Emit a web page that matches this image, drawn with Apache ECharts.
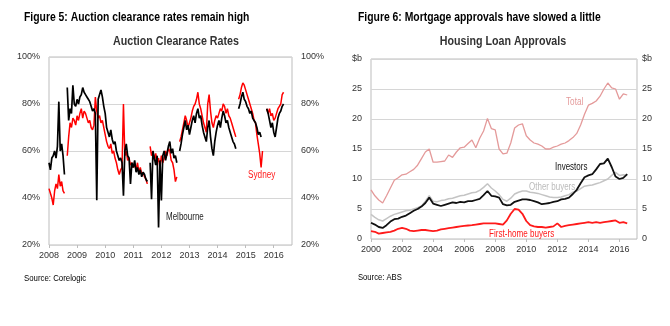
<!DOCTYPE html>
<html><head><meta charset="utf-8">
<script src="https://cdn.jsdelivr.net/npm/echarts@6/dist/echarts.min.js"></script>
<style>html,body{margin:0;padding:0;background:#fff}#c{width:670px;height:326px}</style>
</head><body><div id="c"></div>
<script>
// ---------- Figure 5: Auction clearance rates (weekly-ish, decimal years) ----------
const auctionDates = [
2008.00,2008.05,2008.10,2008.15,2008.20,2008.25,2008.30,2008.35,2008.40,2008.45,2008.50,2008.55,2008.60,2008.65,2008.70,2008.75,2008.80,2008.85,2008.90,2008.95,
2009.00,2009.05,2009.10,2009.15,2009.20,2009.25,2009.30,2009.35,2009.40,2009.45,2009.50,2009.55,2009.60,2009.65,2009.70,2009.75,2009.80,2009.85,2009.90,2009.95,
2010.00,2010.05,2010.10,2010.15,2010.20,2010.25,2010.30,2010.35,2010.40,2010.45,2010.50,2010.55,2010.60,2010.65,2010.70,2010.75,2010.80,2010.85,2010.90,2010.95,
2011.00,2011.05,2011.10,2011.15,2011.20,2011.25,2011.30,2011.35,2011.40,2011.45,2011.50,2011.55,2011.60,2011.65,2011.70,2011.75,2011.80,2011.85,2011.90,2011.95,
2012.00,2012.05,2012.10,2012.15,2012.20,2012.25,2012.30,2012.35,2012.40,2012.45,2012.50,2012.55,2012.60,2012.65,2012.70,2012.75,2012.80,2012.85,2012.90,2012.95,
2013.00,2013.05,2013.10,2013.15,2013.20,2013.25,2013.30,2013.35,2013.40,2013.45,2013.50,2013.55,2013.60,2013.65,2013.70,2013.75,2013.80,2013.85,2013.90,2013.95,
2014.00,2014.05,2014.10,2014.15,2014.20,2014.25,2014.30,2014.35,2014.40,2014.45,2014.50,2014.55,2014.60,2014.65,2014.70,2014.75,2014.80,2014.85,2014.90,2014.95,
2015.00,2015.05,2015.10,2015.15,2015.20,2015.25,2015.30,2015.35,2015.40,2015.45,2015.50,2015.55,2015.60,2015.65,2015.70,2015.75,2015.80,2015.85,2015.90,2015.95,
2016.00,2016.05,2016.10,2016.15,2016.20,2016.25,2016.30,2016.35
];
const melbourne = [
55,52,57,58,60,57,62,81,60,63,58,50,null,87,73,78,76,88,80,79,
82,80,83,84,87,85,84,83,82,81,79,77,78,76,39,82,84,86,83,79,
76,70,68,66,69,65,63,64,60,58,56,57,55,41,60,63,58,57,46,55,
53,56,51,53,50,52,49,51,50,48,47,null,55,39.5,60,57,54,58,27.5,56,
39,58,60,56,59,62,64,59,61,57,58,55,null,60,63,67,70,73,69,71,
67,70,73,75,72,76,78,74,75,71,68,66,64,70,73,66,61,58,64,68,
71,73,70,74,77,75,72,73,70,68,66,64,63,61,null,78,80,83,85,82,
81,79,78,76,77,74,73,72,70,67,68,66,null,null,null,78,76,73,70,72,
68,66,70,74,76,77,79,80
];
const sydney = [
44,42,40,37,43,46,44,50,45,47,43,42,null,58,66,72,70,74,73,71,
75,73,76,78,74,77,76,74,72,73,70,69,71,83,77,74,75,72,73,70,
67,64,62,61,63,59,60,57,55,52,50,52,53,80,58,60,56,57,54,55,
53,54,52,55,51,53,50,51,49,48,46,null,62,58,60,56,59,55,57,53,
58,55,57,60,58,61,60,56,55,52,47,49,null,64,66,69,72,75,73,70,
72,74,77,79,80,82,85,80,78,75,72,70,68,80,84,77,72,70,73,75,
74,76,78,77,80,79,76,78,75,74,72,70,68,66,null,82,84,87,89,88,
86,84,82,80,78,76,73,72,67,63,59,53,60,null,null,78,76,78,75,76,
73,74,76,78,79,80,84,85
];
const auctionTicks = [20,40,60,80,100];

// ---------- Figure 6: Housing loan approvals ($b, quarterly) ----------
const loanDates = [
2000.00,2000.25,2000.50,2000.75,2001.00,2001.25,2001.50,2001.75,2002.00,2002.25,2002.50,2002.75,
2003.00,2003.25,2003.50,2003.75,2004.00,2004.25,2004.50,2004.75,2005.00,2005.25,2005.50,2005.75,
2006.00,2006.25,2006.50,2006.75,2007.00,2007.25,2007.50,2007.75,2008.00,2008.25,2008.50,2008.75,
2009.00,2009.25,2009.50,2009.75,2010.00,2010.25,2010.50,2010.75,2011.00,2011.25,2011.50,2011.75,
2012.00,2012.25,2012.50,2012.75,2013.00,2013.25,2013.50,2013.75,2014.00,2014.25,2014.50,2014.75,
2015.00,2015.25,2015.50,2015.75,2016.00,2016.25,2016.50
];
const total = [
8.2,7.2,6.5,6.0, 7.2,8.5,9.8,10.2, 10.7,10.8,11.2,11.6,
12.3,13.4,14.5,15.0, 12.8,12.8,12.9,13.0, 14.0,13.6,14.5,15.2,
15.3,15.9,16.5,15.2, 16.8,18.0,20.1,18.4, 18.2,15.0,14.2,14.3,
16.0,18.5,19.0,19.2, 17.2,16.5,16.0,15.8, 15.5,15.0,15.0,15.3,
15.5,15.8,16.0,16.4, 16.9,17.6,19.0,20.8, 22.3,22.6,23.0,23.8,
25.0,26.0,25.2,25.0, 23.3,24.2,24.0
];
const investors = [
2.7,2.4,2.0,1.85, 2.3,2.9,3.3,3.4, 3.7,3.9,4.3,4.7,
5.0,5.4,6.0,6.9, 5.9,5.7,5.5,5.7, 5.9,6.1,6.0,6.2,
6.1,6.3,6.3,6.5, 6.7,7.3,8.0,7.2, 7.1,6.9,5.8,5.6,
5.7,6.2,6.4,6.6, 6.6,6.5,6.3,6.1, 5.8,5.9,6.0,6.2,
6.3,6.6,6.7,6.9, 7.5,8.2,9.3,10.3, 10.6,10.8,11.6,12.5,
12.6,13.4,12.0,10.4, 10.0,10.2,10.8
];
const otherBuyers = [
4.1,3.6,3.2,3.0, 3.4,3.8,4.1,4.3, 4.5,4.7,4.8,5.0,
5.2,5.5,6.3,7.2, 6.3,6.2,6.4,6.5, 6.7,6.8,7.0,7.2,
7.3,7.5,7.7,7.8, 8.1,8.6,9.2,8.5, 8.0,7.4,6.6,6.3,
6.8,7.5,7.8,8.0, 8.0,7.8,7.7,7.6, 7.4,7.2,7.0,6.9,
6.9,7.0,7.2,7.4, 7.8,8.0,8.4,8.8, 8.9,9.0,9.2,9.4,
9.7,10.0,10.6,11.1, 10.6,10.7,10.6
];
const firstHome = [
1.3,1.2,0.9,1.0, 1.1,1.2,1.4,1.7, 1.85,1.7,1.4,1.3,
1.4,1.5,1.5,1.4, 1.3,1.4,1.6,1.7, 1.8,1.9,2.0,2.1,
2.2,2.25,2.3,2.4, 2.5,2.6,2.6,2.6, 2.6,2.5,2.4,3.1,
4.2,5.0,4.9,4.2, 3.0,2.3,2.1,2.0, 2.0,1.9,2.0,2.1,
2.6,2.0,2.2,2.3, 2.4,2.5,2.6,2.7, 2.8,2.7,2.8,2.7,
2.8,2.9,3.0,3.1, 2.7,2.8,2.6
];
const loanTicks = [0,5,10,15,20,25,30];

// ---------- build ----------
const F = '"Liberation Sans",Arial,sans-serif';
const pairs = (xs, vs) => xs.map((t, i) => [t, vs[i] == null ? '-' : vs[i]]);
const gridBorder = '#bdbdbd', splitC = '#d6d6d6', lblC = '#333';

function yAx(gi, pos, min, max, interval, fmt, margin, split) {
  return {
    type: 'value', gridIndex: gi, position: pos, min, max, interval,
    axisLine: {show: false}, axisTick: {show: false},
    splitLine: {show: split, lineStyle: {color: splitC, width: 1}},
    axisLabel: {fontFamily: F, fontSize: 9, color: lblC, margin, formatter: fmt,
      align: pos === 'left' ? 'right' : 'left'}
  };
}
function xAx(gi, min, max, interval) {
  return {
    type: 'value', gridIndex: gi, min, max, interval,
    axisLine: {show: false},
    axisTick: {show: true, length: 3, lineStyle: {color: gridBorder}},
    splitLine: {show: false},
    axisLabel: {fontFamily: F, fontSize: 9, color: lblC, margin: 6, showMaxLabel: false,
      formatter: v => String(Math.round(v))}
  };
}
const pct = v => v + '%';
const dol = v => v === 30 ? '$b' : String(v);

const txt = (text, x, y, size, fill, bold, align, sx) => ({
  type: 'text', x, y, silent: true, scaleX: sx || 1, scaleY: 1, originX: 0, originY: 0,
  style: {text, x: 0, y: 0, font: (bold ? 'bold ' : '') + size + 'px ' + F, fill,
    textAlign: align || 'left', textVerticalAlign: 'middle'}
});

const chart = echarts.init(document.getElementById('c'), null, {renderer: 'canvas'});
chart.setOption({
  animation: false,
  backgroundColor: '#fff',
  grid: [
    {left: 49, top: 57, width: 243, height: 188, show: true, borderColor: gridBorder, borderWidth: 1},
    {left: 371, top: 59, width: 266, height: 180, show: true, borderColor: gridBorder, borderWidth: 1}
  ],
  xAxis: [xAx(0, 2008, 2016.65, 1), xAx(1, 2000, 2017.13, 2)],
  yAxis: [
    yAx(0, 'left', auctionTicks[0], auctionTicks[auctionTicks.length-1], 20, pct, 9, true),
    yAx(0, 'right', auctionTicks[0], auctionTicks[auctionTicks.length-1], 20, pct, 9, false),
    yAx(1, 'left', loanTicks[0], loanTicks[loanTicks.length-1], 5, dol, 9, true),
    yAx(1, 'right', loanTicks[0], loanTicks[loanTicks.length-1], 5, dol, 5, false)
  ],
  series: [
    {name: 'Sydney', type: 'line', xAxisIndex: 0, yAxisIndex: 0, data: pairs(auctionDates, sydney),
      showSymbol: false, lineStyle: {color: '#ff0000', width: 1.5}, itemStyle: {color: '#ff0000'}},
    {name: 'Melbourne', type: 'line', xAxisIndex: 0, yAxisIndex: 0, data: pairs(auctionDates, melbourne),
      showSymbol: false, lineStyle: {color: '#000', width: 1.7}, itemStyle: {color: '#000'}},
    {name: 'Total', type: 'line', xAxisIndex: 1, yAxisIndex: 2, data: pairs(loanDates, total),
      showSymbol: false, lineStyle: {color: '#e49a9a', width: 1.3}},
    {name: 'Other buyers', type: 'line', xAxisIndex: 1, yAxisIndex: 2, data: pairs(loanDates, otherBuyers),
      showSymbol: false, lineStyle: {color: '#c4c4c4', width: 1.5}},
    {name: 'Investors', type: 'line', xAxisIndex: 1, yAxisIndex: 2, data: pairs(loanDates, investors),
      showSymbol: false, lineStyle: {color: '#111', width: 1.8}},
    {name: 'First-home buyers', type: 'line', xAxisIndex: 1, yAxisIndex: 2, data: pairs(loanDates, firstHome),
      showSymbol: false, lineStyle: {color: '#ff1a1a', width: 1.8}}
  ],
  graphic: [
    txt('Figure 5: Auction clearance rates remain high', 24, 18, 12.5, '#000', true, 'left', 0.83),
    txt('Figure 6: Mortgage approvals have slowed a little', 358, 18, 12.5, '#000', true, 'left', 0.83),
    txt('Auction Clearance Rates', 176, 42, 12, '#333', true, 'center', 0.89),
    txt('Housing Loan Approvals', 503, 42, 12, '#333', true, 'center', 0.89),
    txt('Source: Corelogic', 24, 279, 9, '#000', false, 'left', 0.87),
    txt('Source: ABS', 358, 278, 9, '#000', false, 'left', 0.85),
    txt('Sydney', 248, 175, 10, '#ff1a1a', false, 'left', 0.82),
    txt('Melbourne', 166, 217, 10, '#222', false, 'left', 0.8),
    txt('Total', 566, 102, 10.5, '#e49a9a', false, 'left', 0.78),
    txt('Investors', 555, 167, 10, '#111', false, 'left', 0.8),
    txt('Other buyers', 529, 187, 10, '#bbbbbb', false, 'left', 0.8),
    txt('First-home buyers', 489, 234, 10, '#ff1a1a', false, 'left', 0.81)
  ]
});
</script></body></html>
